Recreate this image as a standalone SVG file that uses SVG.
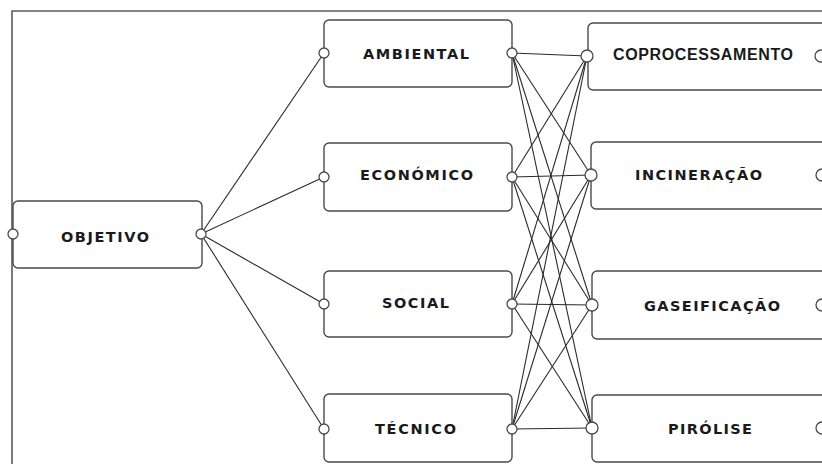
<svg xmlns="http://www.w3.org/2000/svg" width="822" height="464" viewBox="0 0 822 464">
<style>
.box{fill:#fff;stroke:#4a4a4a;stroke-width:1.4}
.port{fill:#fff;stroke:#4a4a4a;stroke-width:1.3}
.lbl{font-family:"DejaVu Sans",Verdana,sans-serif;font-weight:bold;font-size:14.5px;fill:#1a1a1a;text-anchor:middle}
.nar{font-family:"Liberation Sans Narrow","Liberation Sans",Arial,sans-serif;font-size:16px}
.frame{fill:none;stroke:#5a5a5a;stroke-width:1.6}
#connectors line{stroke:#2a2a2a;stroke-width:1.1}
</style>
<rect width="822" height="464" fill="#fff"/>
<path class="frame" d="M12,464 V11 H822"/>
<g id="connectors">
<line x1="201" y1="234" x2="324" y2="53"/>
<line x1="201" y1="234" x2="324" y2="177"/>
<line x1="201" y1="234" x2="324" y2="304"/>
<line x1="201" y1="234" x2="324" y2="429"/>
<line x1="512" y1="53" x2="587" y2="56"/>
<line x1="512" y1="53" x2="591" y2="175"/>
<line x1="512" y1="53" x2="592" y2="305"/>
<line x1="512" y1="53" x2="592" y2="428"/>
<line x1="512" y1="177" x2="587" y2="56"/>
<line x1="512" y1="177" x2="591" y2="175"/>
<line x1="512" y1="177" x2="592" y2="305"/>
<line x1="512" y1="177" x2="592" y2="428"/>
<line x1="512" y1="304" x2="587" y2="56"/>
<line x1="512" y1="304" x2="591" y2="175"/>
<line x1="512" y1="304" x2="592" y2="305"/>
<line x1="512" y1="304" x2="592" y2="428"/>
<line x1="512" y1="429" x2="587" y2="56"/>
<line x1="512" y1="429" x2="591" y2="175"/>
<line x1="512" y1="429" x2="592" y2="305"/>
<line x1="512" y1="429" x2="592" y2="428"/>
</g>
<g id="objetivo">
<rect class="box" x="13" y="201" width="189" height="67" rx="5"/>
<circle class="port" cx="13" cy="234" r="5"/>
<circle class="port" cx="201" cy="234" r="5"/>
<text class="lbl" x="105" y="242" textLength="88" lengthAdjust="spacing">OBJETIVO</text>
</g>
<g id="ambiental">
<rect class="box" x="324" y="20" width="188" height="67" rx="5"/>
<circle class="port" cx="324" cy="53" r="5"/>
<circle class="port" cx="512" cy="53" r="5"/>
<text class="lbl" x="416" y="59" textLength="106" lengthAdjust="spacing">AMBIENTAL</text>
</g>
<g id="economico">
<rect class="box" x="324" y="143" width="188" height="68" rx="5"/>
<circle class="port" cx="324" cy="177" r="5"/>
<circle class="port" cx="512" cy="177" r="5"/>
<text class="lbl" x="416.5" y="180" textLength="113" lengthAdjust="spacing">ECONÓMICO</text>
</g>
<g id="social">
<rect class="box" x="324" y="271" width="188" height="66" rx="5"/>
<circle class="port" cx="324" cy="304" r="5"/>
<circle class="port" cx="512" cy="304" r="5"/>
<text class="lbl" x="415.5" y="308" textLength="67" lengthAdjust="spacing">SOCIAL</text>
</g>
<g id="tecnico">
<rect class="box" x="324" y="394" width="188" height="68" rx="5"/>
<circle class="port" cx="324" cy="429" r="5"/>
<circle class="port" cx="512" cy="429" r="5"/>
<text class="lbl" x="415.5" y="434" textLength="81" lengthAdjust="spacing">TÉCNICO</text>
</g>
<g id="coprocessamento">
<rect class="box" x="588" y="23" width="240" height="67" rx="5"/>
<circle class="port" cx="587" cy="56" r="6"/>
<circle class="port" cx="821" cy="56" r="6"/>
<text class="lbl nar" x="703" y="60" textLength="180" lengthAdjust="spacing">COPROCESSAMENTO</text>
</g>
<g id="incineracao">
<rect class="box" x="591" y="142" width="240" height="67" rx="5"/>
<circle class="port" cx="591" cy="175" r="6"/>
<circle class="port" cx="822" cy="175" r="6"/>
<text class="lbl" x="698.5" y="180" textLength="127" lengthAdjust="spacing">INCINERAÇÃO</text>
</g>
<g id="gaseificacao">
<rect class="box" x="592" y="271" width="240" height="68" rx="5"/>
<circle class="port" cx="592" cy="305" r="6"/>
<circle class="port" cx="822" cy="305" r="6"/>
<text class="lbl" x="712" y="311" textLength="136" lengthAdjust="spacing">GASEIFICAÇÃO</text>
</g>
<g id="pirolise">
<rect class="box" x="592" y="395" width="240" height="67" rx="5"/>
<circle class="port" cx="592" cy="428" r="6"/>
<circle class="port" cx="822" cy="428" r="6"/>
<text class="lbl" x="710" y="434" textLength="84" lengthAdjust="spacing">PIRÓLISE</text>
</g>
</svg>
